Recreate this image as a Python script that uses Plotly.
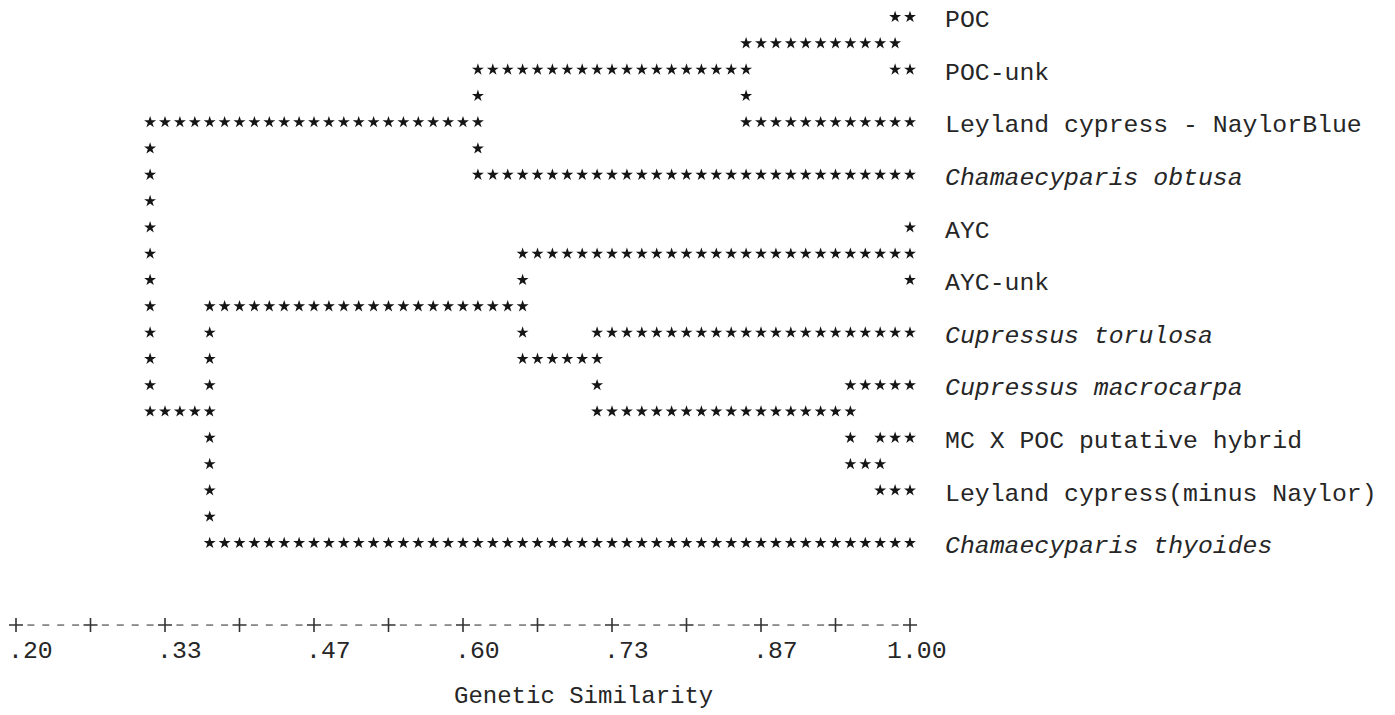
import math
import plotly.graph_objects as go

# ---------------- data ----------------
leaf_names = [
    "POC",
    "POC-unk",
    "Leyland cypress - NaylorBlue",
    "Chamaecyparis obtusa",
    "AYC",
    "AYC-unk",
    "Cupressus torulosa",
    "Cupressus macrocarpa",
    "MC X POC putative hybrid",
    "Leyland cypress(minus Naylor)",
    "Chamaecyparis thyoides",
]
leaf_italic = [False, False, False, True, False, False, True, True, False, False, True]

# merges: new cluster ids start at len(leaf_names)
merge_a = [4, 0, 8, 7, 12, 6, 11, 15, 17, 18]
merge_b = [5, 1, 9, 13, 2, 14, 16, 3, 10, 19]
merge_similarity = [1.00, 0.99, 0.97, 0.95, 0.85, 0.72, 0.65, 0.61, 0.37, 0.32]

tick_labels = [".20", ".33", ".47", ".60", ".73", ".87", "1.00"]
axis_min, axis_max = 0.20, 1.00
axis_chars = 60          # character columns between .20 and 1.00
x_title = "Genetic Similarity"

# ---------------- character-grid dendrogram ----------------
step = (axis_max - axis_min) / axis_chars


def col_of(s):
    return int(round((s - axis_min) / step))


def x_of(col):
    return axis_min + col * step


n = len(leaf_names)
row = {i: 2 * i for i in range(n)}
col = {i: axis_chars for i in range(n)}
cells = set()
for k, (a, b, s) in enumerate(zip(merge_a, merge_b, merge_similarity)):
    node = n + k
    c = col_of(s)
    for ch in (a, b):
        for cc in range(c, col[ch] + 1):
            cells.add((cc, row[ch]))
    for rr in range(min(row[a], row[b]), max(row[a], row[b]) + 1):
        cells.add((c, rr))
    col[node] = c
    row[node] = (row[a] + row[b]) // 2

cells = sorted(cells)
star_x = [x_of(c) for c, r in cells]
star_y = [r for c, r in cells]

fig = go.Figure()
fig.add_trace(go.Scatter(
    x=star_x, y=star_y, mode="markers",
    marker=dict(symbol="star", size=9, color="#151515", line=dict(width=0)),
    hoverinfo="skip", showlegend=False,
))

# axis ruler "+----+----+"
axis_row = 23.12
plus_cols = [c for c in range(axis_chars + 1) if c % 5 == 0]
dash_cols = [c for c in range(axis_chars + 1) if c % 5 != 0]
fig.add_trace(go.Scatter(
    x=[x_of(c) for c in plus_cols], y=[axis_row] * len(plus_cols), mode="markers",
    marker=dict(symbol="cross-thin-open", size=10, color="#333333",
                line=dict(width=1.6, color="#333333")),
    hoverinfo="skip", showlegend=False,
))
fig.add_trace(go.Scatter(
    x=[x_of(c) for c in dash_cols], y=[axis_row] * len(dash_cols), mode="markers",
    marker=dict(symbol="line-ew-open", size=5, color="#666666",
                line=dict(width=1.4, color="#666666")),
    hoverinfo="skip", showlegend=False,
))

font_family = "Liberation Mono, DejaVu Sans Mono, monospace"
fsize = 24.8

annotations = []
# tick labels, decimal point aligned with the '+'
for i, lab in enumerate(tick_labels):
    c = i * 10
    dot = lab.index(".")
    center_col = c - dot - 0.5 + len(lab) / 2.0
    annotations.append(dict(
        x=x_of(center_col - 0.05), y=24.12, xref="x", yref="y", text=lab,
        showarrow=False, xanchor="center", yanchor="middle", borderpad=0,
        font=dict(family=font_family, size=fsize, color="#262626"),
    ))

# leaf labels
for i, name in enumerate(leaf_names):
    txt = f"<i>{name}</i>" if leaf_italic[i] else name
    annotations.append(dict(
        x=x_of(62.3), y=row[i] + 0.12, xref="x", yref="y", text=txt,
        showarrow=False, xanchor="left", yanchor="middle", borderpad=0,
        font=dict(family=font_family, size=fsize, color="#262626"),
    ))

annotations.append(dict(
    x=x_of(38.1), y=25.85, xref="x", yref="y", text=x_title,
    showarrow=False, xanchor="center", yanchor="middle", borderpad=0,
    font=dict(family=font_family, size=24, color="#262626"),
))

W, H = 1395, 715
px_per_col = 14.9
x0_px = 16.0
x_lo = axis_min - x0_px / px_per_col * step
x_hi = axis_min + (W - x0_px) / px_per_col * step
row0_px, row_pitch = 17.0, 26.3

fig.update_layout(
    width=W, height=H,
    margin=dict(l=0, r=0, t=0, b=0),
    paper_bgcolor="white", plot_bgcolor="white",
    xaxis=dict(range=[x_lo, x_hi], visible=False, fixedrange=True),
    yaxis=dict(range=[(H - row0_px) / row_pitch, -row0_px / row_pitch],
               visible=False, fixedrange=True),
    annotations=annotations,
    showlegend=False,
)

fig.write_html("out.html", config={"displayModeBar": False},
               post_script="document.body.style.margin='0';")
